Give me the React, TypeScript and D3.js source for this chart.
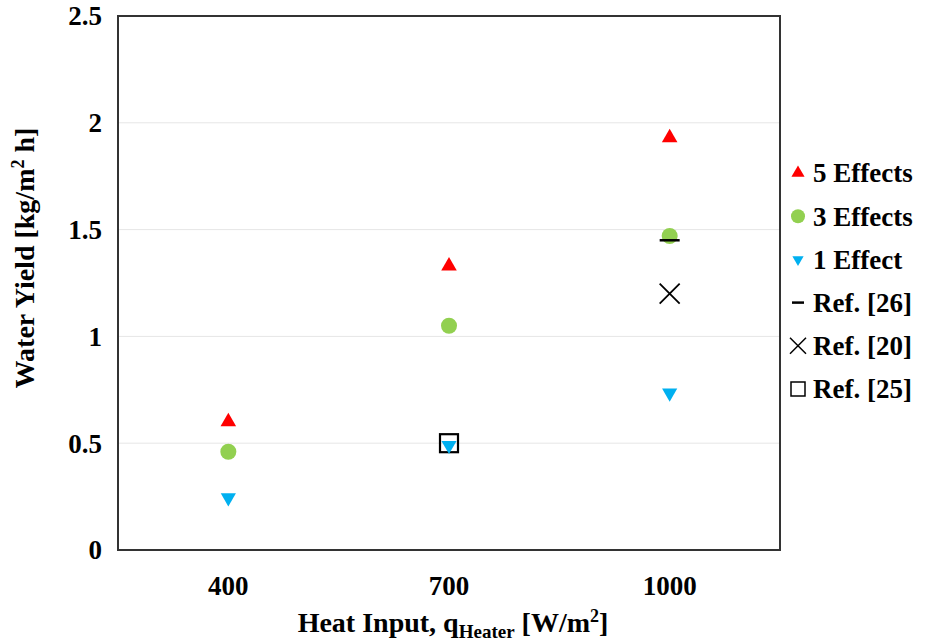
import React, { useEffect, useRef } from 'react';
import * as d3 from 'd3';

const categories = ['400', '700', '1000'];
const yTicks = [0, 0.5, 1, 1.5, 2, 2.5];

const fiveEffects = [0.6, 1.33, 1.93];
const threeEffects = [0.46, 1.05, 1.47];
const oneEffect = [0.245, 0.49, 0.735];
const ref26 = [{ cat: '1000', value: 1.45 }];
const ref20 = [{ cat: '1000', value: 1.2 }];
const ref25 = [{ cat: '700', value: 0.5 }];

const legendItems = ['5 Effects', '3 Effects', '1 Effect', 'Ref. [26]', 'Ref. [20]', 'Ref. [25]'];

const App = () => {
    const svgRef = useRef(null);

    useEffect(() => {
        const svg = d3.select(svgRef.current);
        svg.selectAll('*').remove();

        const width = 925;
        const height = 643;
        const margin = { top: 16, right: 145, bottom: 93, left: 118 };
        const innerW = width - margin.left - margin.right;
        const innerH = height - margin.top - margin.bottom;
        const font = '"Liberation Serif", "Times New Roman", serif';
        const fs = 27;

        svg.attr('width', width).attr('height', height);

        const g = svg.append('g')
            .attr('transform', `translate(${margin.left},${margin.top})`);

        const x = d3.scaleBand().domain(categories).range([0, innerW]);
        const y = d3.scaleLinear().domain([0, 2.5]).range([innerH, 0]);
        const cx = (c) => x(c) + x.bandwidth() / 2;

        //gridlines
        g.selectAll('.grid')
            .data(yTicks.filter(t => t > 0 && t < 2.5))
            .enter().append('line')
            .attr('x1', 0).attr('x2', innerW)
            .attr('y1', d => y(d)).attr('y2', d => y(d))
            .attr('stroke', '#e6e6e6')
            .attr('stroke-width', 1);

        //y tick labels
        g.selectAll('.ytick')
            .data(yTicks)
            .enter().append('text')
            .attr('x', -16)
            .attr('y', d => y(d))
            .attr('dy', '0.35em')
            .attr('text-anchor', 'end')
            .attr('font-family', font)
            .attr('font-weight', 'bold')
            .attr('font-size', fs)
            .attr('fill', '#000')
            .text(d => d);

        //x tick labels
        g.selectAll('.xtick')
            .data(categories)
            .enter().append('text')
            .attr('x', d => cx(d))
            .attr('y', innerH + 45)
            .attr('text-anchor', 'middle')
            .attr('font-family', font)
            .attr('font-weight', 'bold')
            .attr('font-size', fs)
            .attr('fill', '#000')
            .text(d => d);

        const sym = (type, size) => d3.symbol().type(type).size(size)();

        //5 effects
        g.selectAll('.five')
            .data(fiveEffects)
            .enter().append('path')
            .attr('d', sym(d3.symbolTriangle, 105))
            .attr('transform', (d, i) => `translate(${cx(categories[i])},${y(d)})`)
            .attr('fill', '#ff0000');

        //3 effects
        g.selectAll('.three')
            .data(threeEffects)
            .enter().append('circle')
            .attr('cx', (d, i) => cx(categories[i]))
            .attr('cy', d => y(d))
            .attr('r', 8)
            .attr('fill', '#92d050');

        //ref 26 dash
        g.selectAll('.r26')
            .data(ref26)
            .enter().append('line')
            .attr('x1', d => cx(d.cat) - 10).attr('x2', d => cx(d.cat) + 10)
            .attr('y1', d => y(d.value)).attr('y2', d => y(d.value))
            .attr('stroke', '#000')
            .attr('stroke-width', 2.5);

        //ref 20 cross
        g.selectAll('.r20')
            .data(ref20)
            .enter().append('path')
            .attr('d', 'M-10,-10L10,10M-10,10L10,-10')
            .attr('transform', d => `translate(${cx(d.cat)},${y(d.value)})`)
            .attr('stroke', '#000')
            .attr('stroke-width', 1.8)
            .attr('fill', 'none');

        //ref 25 square
        g.selectAll('.r25')
            .data(ref25)
            .enter().append('rect')
            .attr('x', d => cx(d.cat) - 9)
            .attr('y', d => y(d.value) - 9)
            .attr('width', 18).attr('height', 18)
            .attr('fill', 'none')
            .attr('stroke', '#000')
            .attr('stroke-width', 2.2);

        //1 effect (down triangles, drawn on top)
        g.selectAll('.one')
            .data(oneEffect)
            .enter().append('path')
            .attr('d', sym(d3.symbolTriangle, 100))
            .attr('transform', (d, i) => `translate(${cx(categories[i])},${y(d)}) rotate(180)`)
            .attr('fill', '#00b0f0');

        //frame
        g.append('rect')
            .attr('width', innerW).attr('height', innerH)
            .attr('fill', 'none')
            .attr('stroke', '#333')
            .attr('stroke-width', 2);

        //y axis label
        svg.append('text')
            .attr('transform', `translate(34,258) rotate(-90)`)
            .attr('text-anchor', 'middle')
            .attr('font-family', font)
            .attr('font-weight', 'bold')
            .attr('font-size', 28)
            .attr('fill', '#000')
            .html('Water Yield [kg/m<tspan dy="-10" font-size="18">2</tspan><tspan dy="10"> h]</tspan>');

        //x axis label
        svg.append('text')
            .attr('x', margin.left + innerW / 2 + 4)
            .attr('y', 632)
            .attr('text-anchor', 'middle')
            .attr('font-family', font)
            .attr('font-weight', 'bold')
            .attr('font-size', 28)
            .attr('fill', '#000')
            .html('Heat Input, q<tspan dy="6" font-size="19">Heater</tspan><tspan dy="-6"> [W/m</tspan><tspan dy="-10" font-size="18">2</tspan><tspan dy="10">]</tspan>');

        //legend
        const lg = svg.append('g').attr('transform', 'translate(798,173)');
        const rows = lg.selectAll('.row')
            .data(legendItems)
            .enter().append('g')
            .attr('transform', (d, i) => `translate(0,${i * 43.2})`);

        rows.append('text')
            .attr('x', 15)
            .attr('dy', '0.35em')
            .attr('font-family', font)
            .attr('font-weight', 'bold')
            .attr('font-size', fs)
            .attr('fill', '#000')
            .text(d => d);

        rows.each(function (d, i) {
            const r = d3.select(this);
            if (i === 0) {
                r.append('path').attr('d', sym(d3.symbolTriangle, 75)).attr('fill', '#ff0000');
            } else if (i === 1) {
                r.append('circle').attr('r', 7).attr('fill', '#92d050');
            } else if (i === 2) {
                r.append('path').attr('d', sym(d3.symbolTriangle, 55))
                    .attr('transform', 'rotate(180)').attr('fill', '#00b0f0');
            } else if (i === 3) {
                r.append('line').attr('x1', -6).attr('x2', 6)
                    .attr('stroke', '#000').attr('stroke-width', 2.5);
            } else if (i === 4) {
                r.append('path').attr('d', 'M-8,-8L8,8M-8,8L8,-8')
                    .attr('stroke', '#000').attr('stroke-width', 1.5);
            } else {
                r.append('rect').attr('x', -7).attr('y', -7).attr('width', 14).attr('height', 14)
                    .attr('fill', 'none').attr('stroke', '#000').attr('stroke-width', 1.5);
            }
        });
    }, []);

    return <svg ref={svgRef} style={{ display: 'block', position: 'absolute', left: 0, top: 0 }}></svg>;
};

export default App;
